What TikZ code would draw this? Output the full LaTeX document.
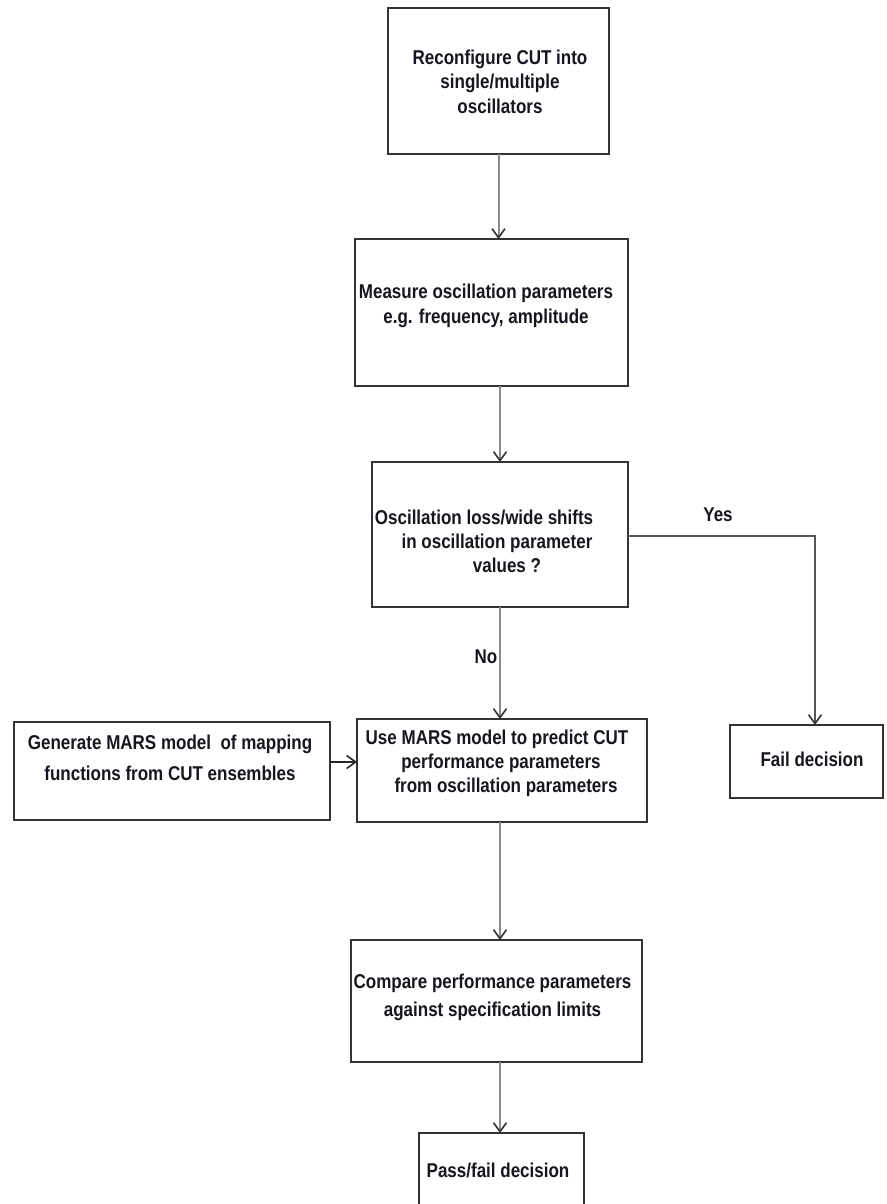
\documentclass[tikz,border=0pt]{standalone}
\usepackage{fontspec}
\setmainfont{Liberation Sans}[FakeStretch=0.85]
\usetikzlibrary{arrows.meta}
\definecolor{boxline}{HTML}{333333}
\definecolor{connline}{HTML}{8A8A8A}
\definecolor{darkline}{HTML}{555555}
\definecolor{txtcol}{HTML}{16161F}
\tikzset{
  flowbox/.style={draw=boxline, line width=2pt, rectangle, inner sep=0pt, outer sep=0pt, fill=white},
  txt/.style={align=center, text=txtcol, font=\bfseries\fontsize{20}{24}\selectfont, inner sep=0pt},
  conn/.style={draw=connline, line width=2pt, -{Straight Barb[length=9pt,width=13pt,line width=1.6pt,color=boxline]}},
  yesconn/.style={draw=darkline, line width=2.5pt, -{Straight Barb[length=9pt,width=13pt,line width=1.6pt,color=boxline]}},
  sideconn/.style={draw=black!85, line width=2.2pt, -{Straight Barb[length=9pt,width=13pt,line width=1.6pt,color=black!85]}}
}
\begin{document}
\begin{tikzpicture}[x=1pt,y=-1pt]
\useasboundingbox (0,0) rectangle (886,1204);
\fill[white] (0,0) rectangle (886,1204);

% boxes
\node[flowbox, minimum width=221pt, minimum height=146pt] (b1) at (498.5,81) {};
\node[flowbox, minimum width=273pt, minimum height=147pt] (b2) at (491.5,312.5) {};
\node[flowbox, minimum width=256pt, minimum height=145pt] (b3) at (500,534.5) {};
\node[flowbox, minimum width=316pt, minimum height=98pt] (gen) at (172,771) {};
\node[flowbox, minimum width=290pt, minimum height=103pt] (b4) at (502,770.5) {};
\node[flowbox, minimum width=153pt, minimum height=73pt] (fail) at (806.5,761.5) {};
\node[flowbox, minimum width=291pt, minimum height=122pt] (cmp) at (496.5,1001) {};
\node[flowbox, minimum width=165pt, minimum height=87pt] (pass) at (501.5,1176.5) {};

% texts
\node[txt, font=\bfseries\fontsize{20}{24.5}\selectfont] (t1) at (500,81.5) {Reconfigure CUT into\\single/multiple\\oscillators};
\node[txt, font=\bfseries\fontsize{20}{25}\selectfont] (t2) at (486,305.5) {Measure oscillation parameters\\e.g. frequency, amplitude};
\node[txt] (t3) at (497,541) {Oscillation loss/wide shifts\hspace*{26pt}\\in oscillation parameter\\\hspace*{20pt}values ?};
\node[txt, font=\bfseries\fontsize{20}{31}\selectfont] (tgen) at (170,757.5) {Generate MARS model\ \ of mapping\\functions from CUT ensembles};
\node[txt] (t4) at (501,763) {Use MARS model to predict CUT\hspace*{8pt}\\performance parameters\\\hspace*{10pt}from oscillation parameters};
\node[txt] (tfail) at (812,759) {Fail decision};
\node[txt, font=\bfseries\fontsize{20}{28}\selectfont] (tcmp) at (492.5,997) {Compare performance parameters\\against specification limits};
\node[txt] (tpass) at (498,1170) {Pass/fail decision};
\node[txt] (lno) at (486,657) {No};
\node[txt] (lyes) at (718,515) {Yes};

% connectors
\coordinate (yesc) at (815,536);
\coordinate (gm) at (0,762);
\coordinate (ax) at (500,0);
\draw[conn] (b1.south) -- (b1.south |- b2.north);
\draw[conn] (b3.north |- b2.south) -- (b3.north);
\draw[conn] (b3.south -| ax) -- (ax |- b4.north);
\draw[yesconn] (b3.east |- yesc) -- (yesc) -- (yesc |- fail.north);
\draw[sideconn] (gen.east |- gm) -- (b4.west |- gm);
\draw[conn] (b4.south -| ax) -- (ax |- cmp.north);
\draw[conn] (cmp.south -| ax) -- (ax |- pass.north);
\end{tikzpicture}
\end{document}
